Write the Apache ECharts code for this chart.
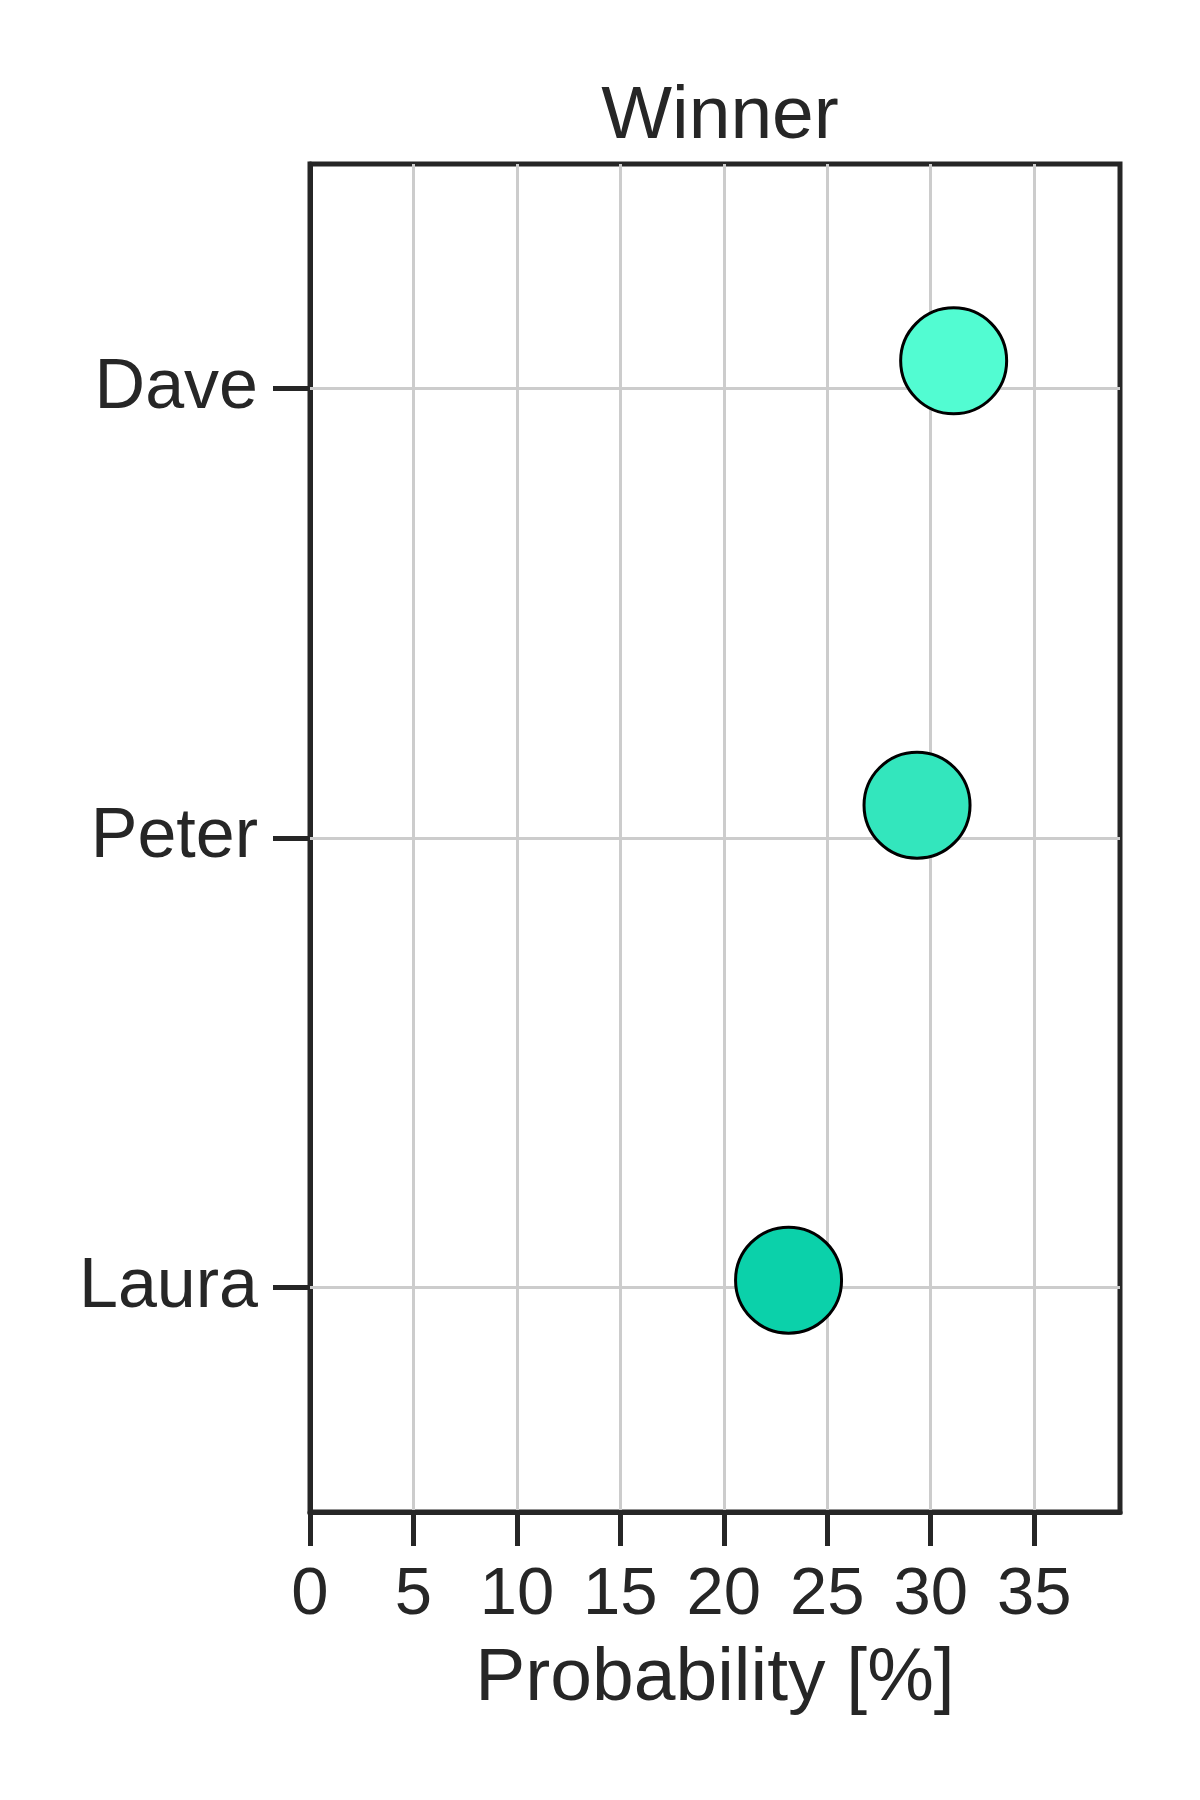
<!DOCTYPE html>
<html>
<head>
<meta charset="utf-8">
<script src="https://cdn.jsdelivr.net/npm/echarts@6/dist/echarts.min.js"></script>
<style>
html,body{margin:0;padding:0;background:#fff;}
#chart{width:1200px;height:1800px;}
</style>
</head>
<body>
<div id="chart"></div>
<script>
// Data
const categories = ['Laura', 'Peter', 'Dave'];          // bottom to top
const probabilities = [23.13, 29.34, 31.11];           // x values [%]
const rowPositions = [0.016, 1.073, 2.062];             // y values (row index + small offset)
const xTicks = [0, 5, 10, 15, 20, 25, 30, 35];
const pointColors = ['#0bd1aa', '#33e6bd', '#52fcd2'];

const FONT = 'Liberation Sans, Arial, sans-serif';
const DARK = '#262626';

const chart = echarts.init(document.getElementById('chart'), null, {renderer: 'canvas'});
chart.setOption({
  animation: false,
  backgroundColor: '#ffffff',
  title: {
    text: 'Winner',
    left: 715,
    top: 75,
    textAlign: 'center',
    textStyle: {fontFamily: FONT, fontSize: 75, fontWeight: 'normal', color: DARK}
  },
  grid: {
    left: 310, right: 80, top: 164, bottom: 288,
    show: true, borderColor: DARK, borderWidth: 5, backgroundColor: 'transparent'
  },
  xAxis: {
    type: 'value',
    min: 0, max: 39.15,
    interval: 5,
    name: 'Probability [%]',
    nameLocation: 'middle',
    nameGap: 130,
    nameTextStyle: {fontFamily: FONT, fontSize: 75, color: DARK},
    axisLine: {show: true, onZero: false, lineStyle: {color: DARK, width: 5}},
    axisTick: {show: true, length: 34, lineStyle: {color: DARK, width: 5}, customValues: xTicks},
    axisLabel: {fontFamily: FONT, fontSize: 67, color: DARK, margin: 50, customValues: xTicks},
    splitLine: {show: true, lineStyle: {color: '#cccccc', width: 3}}
  },
  yAxis: [{
    type: 'category',
    data: categories,
    boundaryGap: true,
    axisLine: {show: true, onZero: false, lineStyle: {color: DARK, width: 5}},
    axisTick: {show: true, alignWithLabel: true, length: 37, lineStyle: {color: DARK, width: 5}},
    axisLabel: {fontFamily: FONT, fontSize: 70, color: DARK, margin: 52},
    splitLine: {show: false}
  }, {
    type: 'value',
    min: -0.5, max: 2.5,
    show: false,
    splitLine: {show: false}
  }],
  series: [{
    type: 'line',
    yAxisIndex: 0,
    data: [],
    markLine: {
      silent: true, symbol: 'none', label: {show: false},
      lineStyle: {color: '#cccccc', width: 3, type: 'solid'},
      data: categories.map(c => ({yAxis: c}))
    }
  }, {
    type: 'scatter',
    yAxisIndex: 1,
    symbol: 'circle',
    symbolSize: 106,
    z: 5,
    itemStyle: {borderColor: '#000000', borderWidth: 3, opacity: 1},
    data: probabilities.map((p, i) => ({
      value: [p, rowPositions[i]],
      itemStyle: {color: pointColors[i]}
    }))
  }]
});
</script>
</body>
</html>
